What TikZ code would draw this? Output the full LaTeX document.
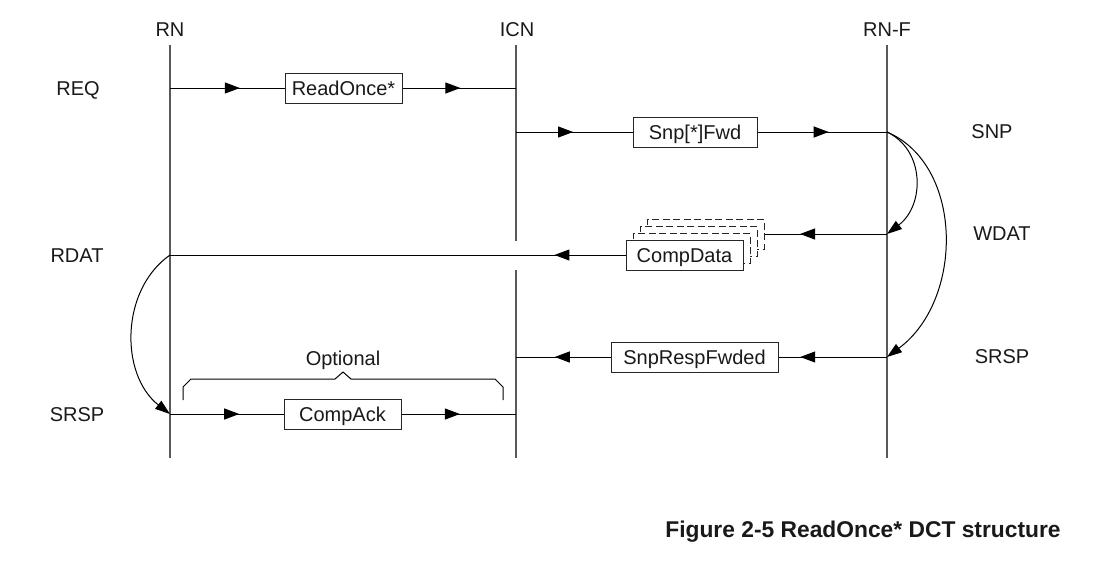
\documentclass[tikz,border=0pt]{standalone}
\usepackage{fontspec}
\setmainfont{Liberation Sans}
\usetikzlibrary{arrows.meta,decorations.markings}
\begin{document}
\begin{tikzpicture}[x=1pt,y=-1pt,
  every node/.style={font=\fontsize{20}{24}\selectfont, text=black!90, text height=14.3pt, text depth=0pt, inner sep=0pt},
  lifeline/.style={draw=black!65, line width=1.5pt},
  msg/.style={draw=black, line width=1pt},
  msgbox/.style={draw=black!85, line width=1pt, fill=white, minimum height=30pt, anchor=center},
  dbox/.style={msgbox, dash pattern=on 7pt off 3.5pt},
  midtip/.style={postaction={decorate, decoration={markings, mark=at position #1 with {\arrow{Triangle[length=15pt,width=11pt]}}}}},
  curvearrow/.style={draw=black, line width=1pt, -{Triangle[length=15pt,width=10pt]}},
]
\useasboundingbox (0,0) rectangle (1102,568);

% headers
\node (rnh) at (170,29) {RN};
\node (icnh) at (517,29) {ICN};
\node (rnfh) at (887,29) {RN-F};

% lifelines
\coordinate (rntop) at (170,45);
\coordinate (rnbot) at (170,458);
\coordinate (icntop) at (516,45);
\coordinate (icngapa) at (516,241);
\coordinate (icngapb) at (516,270);
\coordinate (icnbot) at (516,458);
\coordinate (rnftop) at (887,45);
\coordinate (rnfbot) at (887,458);
\draw[lifeline] (rntop) -- (rnbot);
\draw[lifeline] (icntop) -- (icngapa);
\draw[lifeline] (icngapb) -- (icnbot);
\draw[lifeline] (rnftop) -- (rnfbot);

% row coordinates
\coordinate (rn-req) at (170,88);
\coordinate (icn-req) at (516,88);
\coordinate (icn-snp) at (516,132);
\coordinate (rnf-snp) at (887,132);
\coordinate (rnf-wdat) at (887,234);
\coordinate (rn-rdat) at (170,255);
\coordinate (icn-srsp) at (516,357);
\coordinate (rnf-srsp) at (887,357);
\coordinate (rn-ack) at (170,414);
\coordinate (icn-ack) at (516,414);

% side labels
\node (lreq) at (78,88) {REQ};
\node (lrdat) at (77,255) {RDAT};
\node (lsrsp) at (77,414) {SRSP};
\node (lsnp) at (992,131) {SNP};
\node (lwdat) at (1002,233) {WDAT};
\node (rsrsp) at (1002,356) {SRSP};

% message boxes
\node[msgbox, minimum width=117pt] (ro) at (343.5,88) {ReadOnce*};
\node[msgbox, minimum width=124pt] (sf) at (695,132) {Snp[*]Fwd};
\node[dbox, minimum width=117pt] (cd3) at (705.5,234) {};
\node[dbox, minimum width=117pt] (cd2) at (698.5,241) {};
\node[dbox, minimum width=117pt] (cd1) at (691.5,248) {};
\node[msgbox, minimum width=117pt] (cd) at (684.5,255) {CompData};
\node[msgbox, minimum width=167pt] (srf) at (694.5,357) {SnpRespFwded};
\node[msgbox, minimum width=117pt] (ca) at (342.5,414) {CompAck};

% messages
\draw[msg, midtip=0.61] (rn-req) -- (ro.west);
\draw[msg, midtip=0.51] (ro.east) -- (icn-req);
\draw[msg, midtip=0.49] (icn-snp) -- (sf.west);
\draw[msg, midtip=0.55] (sf.east) -- (rnf-snp);
\draw[msg, midtip=0.71] (rnf-wdat) -- (cd3.east);
\draw[msg, midtip=0.156] (cd.west) -- (rn-rdat);
\draw[msg, midtip=0.8] (rnf-srsp) -- (srf.east);
\draw[msg, midtip=0.59] (srf.west) -- (icn-srsp);
\draw[msg, midtip=0.61] (rn-ack) -- (ca.west);
\draw[msg, midtip=0.51] (ca.east) -- (icn-ack);

% curved arrows
\draw[curvearrow] (rnf-snp) .. controls (925,150) and (925,205) .. (rnf-wdat);
\draw[curvearrow] (rnf-snp) .. controls (964,165) and (964,300) .. (rnf-srsp);
\draw[curvearrow] (rn-rdat) .. controls (120,290) and (120,375) .. (rn-ack);

% optional brace
\draw[msg] (183,400) -- (183,387) -- (191,379) -- (335,379) -- (343,372) -- (351,379) -- (495,379) -- (503,387) -- (503,400);
\node (opt) at (343,358) {Optional};

% caption
\node[font=\bfseries\fontsize{22.8}{27}\selectfont, text height=16.3pt] (cap) at (863,529) {Figure 2-5 ReadOnce* DCT structure};
\end{tikzpicture}
\end{document}
